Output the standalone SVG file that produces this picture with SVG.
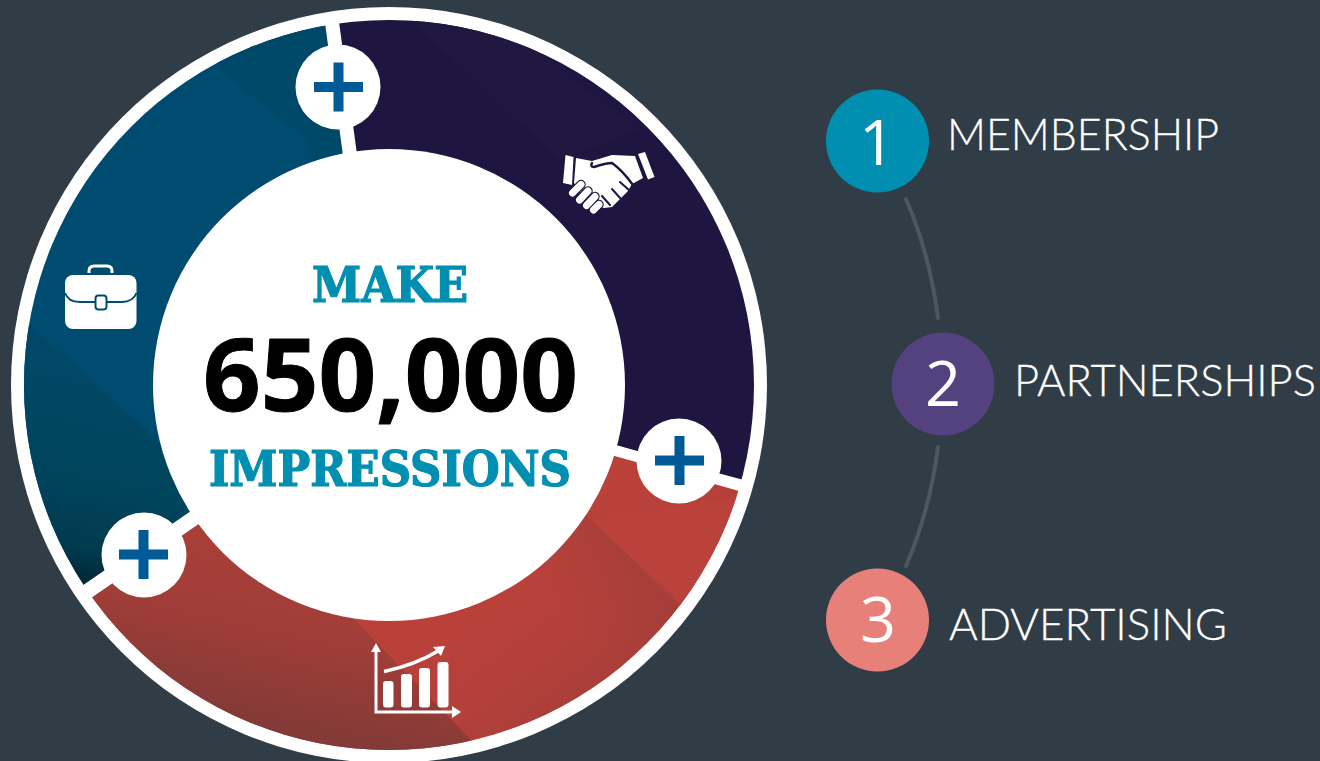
<svg xmlns="http://www.w3.org/2000/svg" width="1320" height="761" viewBox="0 0 1320 761">
<style>
.w{fill:#fff}
.plus{fill:#005a96}
.gap{stroke:#fff;fill:none}
.lab{font-family:"Lato","Noto Sans",sans-serif;font-weight:300;font-size:44px;fill:#fff;stroke:#fff;stroke-width:.3}
.num{font-family:"Open Sans","Noto Sans",sans-serif;font-weight:500;font-size:63px;fill:#fff;text-anchor:middle}
.slab{font-family:"DejaVu Serif Condensed","DejaVu Serif","Liberation Serif",serif;font-weight:700;font-size:48px;fill:#008fb0;stroke:#008fb0;stroke-width:1.2}
.big{font-family:"Noto Sans","Open Sans",sans-serif;font-weight:700;font-size:100px;fill:#000;stroke:#000;stroke-width:1}
.conn{stroke:#4f5662;stroke-width:4;fill:none;stroke-linecap:round}
</style>
<defs>
<linearGradient id="tealLow" gradientUnits="userSpaceOnUse" x1="110" y1="380" x2="65" y2="590">
<stop offset="0" stop-color="#004866"/><stop offset=".5" stop-color="#00445c"/><stop offset=".8" stop-color="#003a4e"/><stop offset="1" stop-color="#00202d"/>
</linearGradient>
<linearGradient id="redLeft" gradientUnits="userSpaceOnUse" x1="300" y1="540" x2="260" y2="720">
<stop offset="0" stop-color="#ab3f39"/><stop offset=".5" stop-color="#a03d38"/><stop offset="1" stop-color="#843a37"/>
</linearGradient>
<linearGradient id="redMid" gradientUnits="userSpaceOnUse" x1="470" y1="620" x2="560" y2="740">
<stop offset="0" stop-color="#ba413a"/><stop offset=".5" stop-color="#b3403a"/><stop offset="1" stop-color="#a63e39"/>
</linearGradient>
<linearGradient id="redBand" gradientUnits="userSpaceOnUse" x1="633" y1="561" x2="575" y2="622">
<stop offset="0" stop-color="#9c3c38" stop-opacity=".5"/><stop offset="1" stop-color="#9c3c38" stop-opacity="0"/>
</linearGradient>
<clipPath id="disc"><circle cx="389" cy="385" r="365"/></clipPath>
</defs>
<rect width="1320" height="761" fill="#303c46"/>
<g id="wheel">
<circle class="w" cx="389" cy="385" r="378"/>
<g clip-path="url(#disc)">
<path d="M389 385L331 10H0V640L85 594Z" fill="#004c70"/>
<path d="M218 68L305 138L389 385L331 0H218Z" fill="#004868"/>
<path d="M-20 280L158 440L389 640L85 594L0 640Z" fill="url(#tealLow)"/>
<path d="M389 385L331 10H770V487Z" fill="#1e1640"/>
<path d="M405 15L560 160L640 130L490 15Z" fill="#201840"/>
<path d="M389 385L770 491L770 770H20L85 594Z" fill="url(#redMid)"/>
<path d="M770 491L590 520L677 603L770 700Z" fill="#ba423a"/>
<path d="M540 472L800 716L720 800L480 540Z" fill="url(#redBand)"/>
<path d="M389 385L85 594L20 770L500 770L353 618Z" fill="url(#redLeft)"/>
</g>
<path class="gap" stroke-width="14" d="M331 15L350 155"/>
<path class="gap" stroke-width="11" d="M610 449L745 487"/>
<path class="gap" stroke-width="15" d="M82 595L197 516"/>
<circle class="w" cx="389" cy="385" r="236"/>
</g>
<g id="centre-text">
<text class="slab" x="312" y="302" textLength="156" lengthAdjust="spacingAndGlyphs">MAKE</text>
<text class="big" x="203" y="411" textLength="375" lengthAdjust="spacingAndGlyphs">650,000</text>
<text class="slab" x="209" y="486" textLength="362" lengthAdjust="spacingAndGlyphs">IMPRESSIONS</text>
</g>
<g id="plus-1"><circle class="w" cx="338" cy="87" r="42.5"/><path class="plus" d="M333.500 62.500h10v19.500h19.500v10h-19.500v19.500h-10v-19.500h-19.500v-10h19.500z"/></g>
<g id="plus-2"><circle class="w" cx="679" cy="461" r="42.500"/><path class="plus" d="M674.500 436h10v19.500h19.500v10h-19.500v19.500h-10v-19.500h-19.500v-10h19.500z"/></g>
<g id="plus-3"><circle class="w" cx="144" cy="555" r="42.500"/><path class="plus" d="M138.500 530h10v19.500h19.500v10h-19.500v19.500h-10v-19.500h-19.500v-10h19.500z"/></g>
<g id="icon-handshake">
<path class="w" d="M565.500 155L573.500 157L572 185L563 183Z"/>
<path class="w" d="M638 154L645 152L654.500 177L648 179.500Z"/>
<path class="w" d="M576 158L592 161L612 155L635 156L643 178L632 184L628 191L612 207L604 208L592 205L578 190L574 183Z"/>
<path d="M592 163Q590 167 594 167Q606 163 612 163Q622 170 633 185" fill="none" stroke="#1e1640" stroke-width="2.500" stroke-linecap="round"/>
<g fill="none" stroke-linecap="round">
<path d="M572.500 193L581 184.500M579.500 200L588 191M586.500 205.500L595 196.500M593.500 210L599 204.500" stroke="#1e1640" stroke-width="9.500"/>
<path d="M572.500 193L581 184.500M579.500 200L588 191M586.500 205.500L595 196.500M593.500 210L599 204.500" stroke="#fff" stroke-width="7"/>
<path d="M602 196L610 205M612 189L621 199M620 182L630 191" stroke="#1e1640" stroke-width="2"/>
</g>
</g>
<g id="icon-briefcase">
<path d="M89 273V271Q89 266 94 266H107Q112 266 112 271V273" fill="none" stroke="#fff" stroke-width="3"/>
<rect class="w" x="65" y="275" width="71.500" height="54" rx="8"/>
<path d="M65 293Q68 302 80 302H122Q133 302 136.500 293" fill="none" stroke="#004c70" stroke-width="2"/>
<rect x="95.500" y="295.500" width="11" height="14" rx="3" fill="#fff" stroke="#004c70" stroke-width="2"/>
</g>
<g id="icon-chart">
<path fill="none" stroke="#fff" stroke-width="3" d="M376 650V712H453"/>
<path class="w" d="M376 643L381 652H371ZM461 712L452 718V706Z"/>
<rect class="w" x="383" y="681" width="10.500" height="26.500" rx="3"/>
<rect class="w" x="401" y="674" width="11" height="33.500" rx="3"/>
<rect class="w" x="419" y="668" width="11" height="39.500" rx="3"/>
<rect class="w" x="437.500" y="662" width="11" height="45.500" rx="3"/>
<path d="M384 671.500Q415 665 438 651" fill="none" stroke="#fff" stroke-width="3.500"/>
<path class="w" d="M445 646L441 656L433 647Z"/>
</g>
<g id="connectors">
<path class="conn" d="M906 199Q930 255 938 318"/>
<path class="conn" d="M938 447Q930 510 906 566"/>
</g>
<g id="item-1"><circle cx="877.500" cy="141" r="51.500" fill="#008fb0"/><text class="num" x="877" y="165">1</text><text class="lab" x="947" y="150" textLength="272" lengthAdjust="spacingAndGlyphs">MEMBERSHIP</text></g>
<g id="item-2"><circle cx="943" cy="384" r="51.500" fill="#54427f"/><text class="num" x="943" y="406">2</text><text class="lab" x="1014" y="396" textLength="302" lengthAdjust="spacingAndGlyphs">PARTNERSHIPS</text></g>
<g id="item-3"><circle cx="877.500" cy="620" r="51.500" fill="#e8807a"/><text class="num" x="878" y="642">3</text><text class="lab" x="949" y="640" textLength="278" lengthAdjust="spacingAndGlyphs">ADVERTISING</text></g>
</svg>
